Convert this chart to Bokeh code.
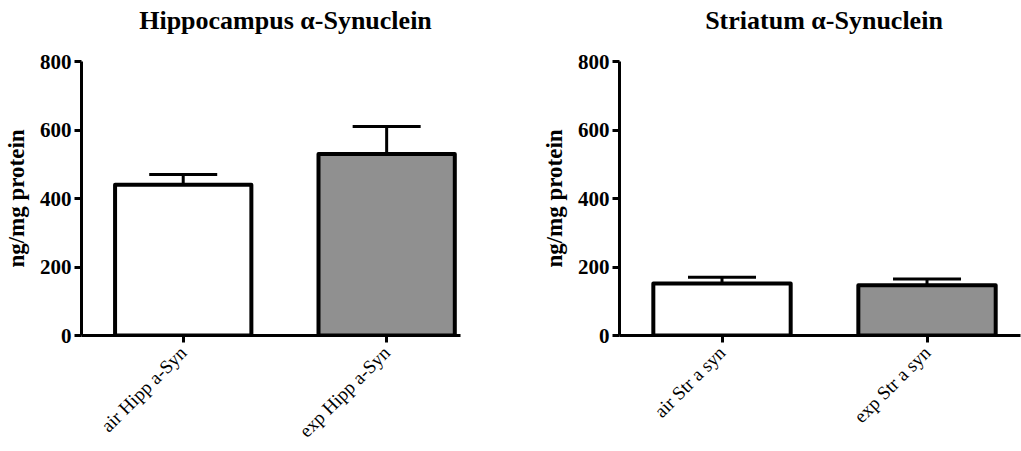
import math
from bokeh.plotting import figure
from bokeh.models import Range1d, FixedTicker, ColumnDataSource, Whisker, TeeHead, CanvasTexture
from bokeh.layouts import row, column
from bokeh.embed import file_html
from bokeh.resources import INLINE

# ---- data ----
hipp_title = "Hippocampus α-Synuclein"
hipp_cats = ["air Hipp a-Syn", "exp Hipp a-Syn"]
hipp_vals = [440, 530]
hipp_errs = [30, 80]

str_title = "Striatum α-Synuclein"
str_cats = ["air Str a syn", "exp Str a syn"]
str_vals = [152, 147]
str_errs = [18, 18]

y_label = "ng/mg protein"
y_ticks = [0, 200, 400, 600, 800]
bar_patterns = [" ", "checker"]

FONT = "Liberation Serif"

checker_code = """
ctx.fillStyle = 'white';
ctx.fillRect(0, 0, scale, scale);
ctx.fillStyle = 'black';
const h = scale / 2;
ctx.fillRect(0, 0, h, h);
ctx.fillRect(h, h, h, h);
"""


def make_title(text, width, dx):
    t = figure(width=width, height=51, output_backend="svg", toolbar_location=None,
               x_range=Range1d(0, 1), y_range=Range1d(0, 1),
               min_border_left=0, min_border_right=0, min_border_top=0, min_border_bottom=0)
    t.axis.visible = False
    t.grid.visible = False
    t.outline_line_color = None
    t.text(x=[0.5], y=[0.5], text=[text], x_offset=dx, y_offset=-6,
           text_align="center", text_baseline="middle",
           text_font="Liberation Serif", text_font_size="26px", text_font_style="bold",
           text_color="black")
    return t


def make_panel(cats, vals, errs, width, border_left, border_right, x_end):
    xs = [i + 0.5 for i in range(len(cats))]
    p = figure(width=width, height=400, output_backend="svg", toolbar_location=None,
               x_range=Range1d(0, x_end), y_range=Range1d(0, 800),
               min_border_left=border_left, min_border_right=border_right,
               min_border_top=10, min_border_bottom=116)
    p.outline_line_color = None
    p.grid.visible = False
    p.background_fill_color = "white"

    src = ColumnDataSource(dict(x=xs, top=vals, upper=[v + e for v, e in zip(vals, errs)],
                                hatch=bar_patterns))
    w = Whisker(source=src, base="x", upper="upper", lower="top", dimension="height",
                line_color="black", line_width=3,
                upper_head=TeeHead(size=68, line_width=3, line_color="black"),
                lower_head=None, level="underlay")
    p.add_layout(w)
    p.vbar(x="x", top="top", width=0.67, bottom=0, source=src,
           fill_color="white", line_color="black", line_width=4, line_join="round",
           hatch_pattern="hatch", hatch_color="black", hatch_scale=4, hatch_weight=1,
           hatch_extra={"checker": CanvasTexture(code=checker_code, repetition="repeat")})

    p.yaxis.ticker = FixedTicker(ticks=y_ticks)
    p.yaxis.axis_label = y_label
    p.yaxis.axis_label_text_font = FONT
    p.yaxis.axis_label_text_font_style = "bold"
    p.yaxis.axis_label_text_font_size = "23px"
    p.yaxis.axis_label_text_color = "black"
    p.yaxis.axis_label_standoff = 8
    p.yaxis.major_label_text_font = FONT
    p.yaxis.major_label_text_font_style = "bold"
    p.yaxis.major_label_text_font_size = "21px"
    p.yaxis.major_label_text_color = "black"
    p.yaxis.major_label_standoff = 3
    p.yaxis.major_tick_out = 7
    p.yaxis.major_tick_in = 0
    p.yaxis.minor_tick_line_color = None
    p.yaxis.axis_line_width = 3
    p.yaxis.major_tick_line_width = 3

    p.xaxis.ticker = FixedTicker(ticks=xs)
    p.xaxis.major_label_overrides = {x: c for x, c in zip(xs, cats)}
    p.xaxis.major_label_orientation = math.pi / 4
    p.xaxis.major_label_text_font = FONT
    p.xaxis.major_label_text_font_size = "19px"
    p.xaxis.major_label_text_color = "black"
    p.xaxis.major_label_standoff = 7
    p.xaxis.major_tick_out = 7
    p.xaxis.major_tick_in = 0
    p.xaxis.minor_tick_line_color = None
    p.xaxis.axis_line_width = 3
    p.xaxis.major_tick_line_width = 3
    return p


t1 = make_title(hipp_title, 510, 30)
t2 = make_title(str_title, 511, 58)
p1 = make_panel(hipp_cats, hipp_vals, hipp_errs, 510, 79, 50, 1.863)
p2 = make_panel(str_cats, str_vals, str_errs, 511, 109, 1, 1.956)

layout = column(row(t1, t2), row(p1, p2))
open("out.html", "w").write(file_html(layout, INLINE))
